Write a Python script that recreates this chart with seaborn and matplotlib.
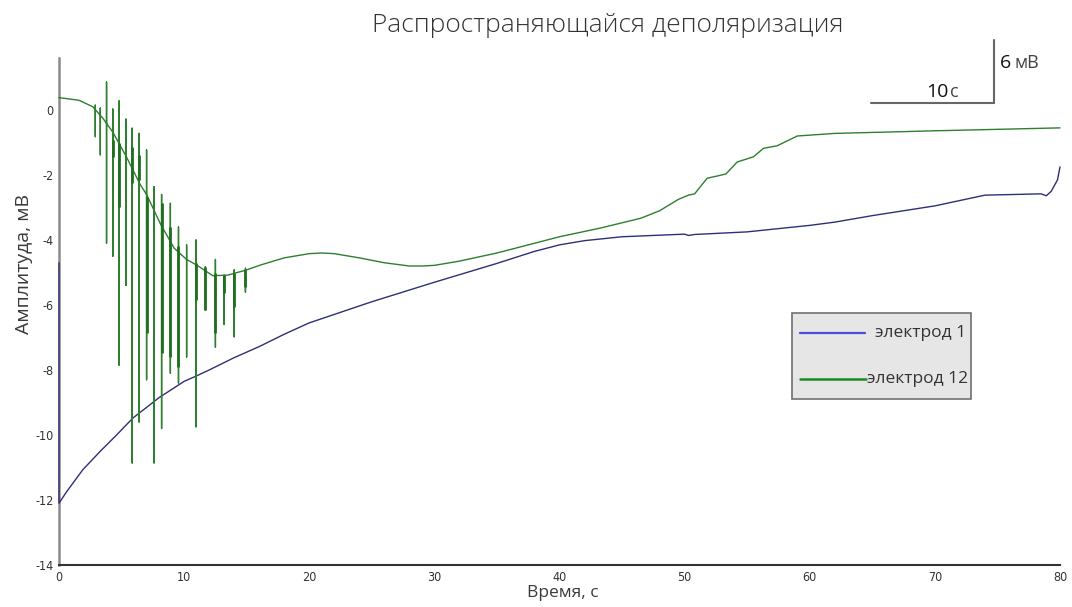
import numpy as np
import pandas as pd
import matplotlib
matplotlib.use("Agg")
import matplotlib.pyplot as plt
from matplotlib.patches import Rectangle
from matplotlib.lines import Line2D
import seaborn as sns

# Electrode 1 (time, s / amplitude, mV)
e1_time = [0, 0, 0.6, 1.9, 3.3, 4.6, 5.9, 8, 10, 11, 12, 14, 16, 18, 20, 25,
           30, 35, 38, 40, 42, 45, 50, 50.3, 50.8, 55, 60, 62, 65, 70, 74,
           78.5, 78.9, 79.3, 79.8, 80]
e1_amp = [-4.7, -12.1, -11.75, -11.07, -10.5, -10.0, -9.48, -8.85, -8.35,
          -8.18, -8.0, -7.62, -7.28, -6.9, -6.55, -5.9, -5.3, -4.72, -4.35,
          -4.15, -4.02, -3.9, -3.82, -3.86, -3.83, -3.75, -3.55, -3.45, -3.25,
          -2.95, -2.62, -2.58, -2.64, -2.5, -2.15, -1.75]

# Electrode 12 slow component
e12_time = [0, 1.6, 2.7, 3.5, 4.3, 5.4, 6.5, 7.0, 8.1, 9.2, 10.2, 11.0, 12.3,
            13.5, 15.0, 16.1, 18, 20, 21, 22, 24, 26, 28, 29, 30, 32, 35, 38,
            40, 43.3, 46.5, 48, 49.5, 50.3, 50.8, 51.8, 53.3, 54.2, 55.5, 56.3,
            57.4, 59, 62, 70, 80]
e12_amp = [0.38, 0.3, 0.1, -0.25, -0.68, -1.45, -2.3, -2.6, -3.5, -4.25, -4.6,
           -4.77, -5.1, -5.08, -4.92, -4.77, -4.55, -4.42, -4.4, -4.42, -4.55,
           -4.7, -4.8, -4.8, -4.78, -4.65, -4.4, -4.1, -3.9, -3.63, -3.33, -3.1,
           -2.75, -2.62, -2.58, -2.1, -1.97, -1.6, -1.44, -1.18, -1.1, -0.8,
           -0.72, -0.64, -0.55]

# Electrode 12 discharges: time, upper and lower excursion
spike_t = [2.9, 3.3, 3.8, 4.3, 4.8, 5.35, 5.85, 6.4, 7.0, 7.6, 8.2, 8.9, 9.55,
           10.2, 10.95, 11.7, 12.5, 13.2, 14.0, 14.9]
spike_hi = [0.15, 0.06, 0.86, 0.03, 0.28, -0.28, -0.56, -0.72, -1.23, -2.36,
            -2.6, -2.87, -3.6, -4.15, -4.0, -4.82, -4.6, -5.1, -4.92, -4.87]
spike_lo = [-0.82, -1.38, -4.1, -4.5, -7.85, -5.4, -10.86, -9.6, -8.3, -10.86,
            -9.8, -8.1, -8.4, -7.6, -9.75, -6.15, -7.3, -6.6, -6.98, -5.6]

# Dense oscillation bursts riding on the discharges
burst_t = [4.3, 4.8, 5.85, 6.4, 7.0, 8.2, 8.9, 9.55, 10.95, 11.7, 12.5, 13.2,
           14.0, 14.9]
burst_hi = [-0.92, -1.03, -1.13, -1.38, -2.67, -2.87, -3.59, -4.2, -4.72,
            -4.82, -5.03, -5.08, -5.03, -4.92]
burst_lo = [-1.44, -2.97, -2.26, -2.15, -6.87, -7.49, -7.59, -7.9, -5.85,
            -6.15, -6.87, -5.64, -6.05, -5.44]

x_ticks = [0, 10, 20, 30, 40, 50, 60, 70, 80]
y_ticks = [-14, -12, -10, -8, -6, -4, -2, 0]

labels = ["электрод 1", "электрод 12"]
title = "Распространяющайся деполяризация"

# Merge discharges into the electrode 12 trace
pts = [(t, v, 0) for t, v in zip(e12_time, e12_amp)]
for t, hi, lo in zip(spike_t, spike_hi, spike_lo):
    base = float(np.interp(t, e12_time, e12_amp))
    for k, v in enumerate([base, hi, lo, base]):
        pts.append((t, v, k + 1))
pts.sort(key=lambda p: (p[0], p[2]))
g_time = [p[0] for p in pts]
g_amp = [p[1] for p in pts]

df = pd.concat([
    pd.DataFrame({"t": e1_time, "v": e1_amp, "electrode": labels[0]}),
    pd.DataFrame({"t": g_time, "v": g_amp, "electrode": labels[1]}),
], ignore_index=True)

sns.set_style("white")
plt.rcParams["font.family"] = ["Open Sans", "DejaVu Sans"]

fig = plt.figure(figsize=(10.72, 6.07), dpi=100)
ax = fig.add_axes([59 / 1072, 42 / 607, 1001 / 1072, 507 / 607])

trace_colors = {labels[0]: "#2f2f78", labels[1]: "#2e7f2e"}
sns.lineplot(data=df, x="t", y="v", hue="electrode", palette=trace_colors,
             sort=False, estimator=None, units="electrode", legend=False,
             linewidth=1.0, ax=ax)
for ln in ax.lines:
    ln.set_zorder(3)
    ln.set_clip_on(False)
ax.vlines(burst_t, burst_lo, burst_hi, colors="#1f6f1f", linewidth=2.0,
          zorder=3)

ax.set_xlim(0, 80)
ax.set_ylim(-14, 1.6)
ax.set_xticks(x_ticks)
ax.set_yticks(y_ticks)
ax.set_xticklabels([str(v) for v in x_ticks])
ax.set_yticklabels([str(v) for v in y_ticks])
ax.tick_params(axis="both", direction="in", length=9, width=1.2,
               colors="#888888", labelcolor="#333333", labelsize=9, pad=4)
for lab in ax.get_xticklabels() + ax.get_yticklabels():
    lab.set_family("DejaVu Sans")
    lab.set_stretch("condensed")

for side in ["top", "right"]:
    ax.spines[side].set_visible(False)
ax.spines["left"].set_color("#8a8a8a")
ax.spines["left"].set_linewidth(1.8)
ax.spines["bottom"].set_color("#333333")
ax.spines["bottom"].set_linewidth(1.5)

ax.set_xlabel("Время, с", fontsize=12.5, color="#3a3a3a")
ax.set_ylabel("Амплитуда, мВ", fontsize=14, color="#3a3a3a")
ax.xaxis.set_label_coords(0.503, -0.055)
ax.xaxis.label.set_va("center")
ax.yaxis.set_label_coords(-0.026, 0.594)

fig.text(608 / 1072, 1 - 25 / 607, title, ha="center", va="center",
         fontsize=19, color="#333333", fontweight="light")

# Scale bar: 10 s horizontal, 6 mV vertical
ax.plot([64.9, 74.75], [0.2, 0.2], color="#666666", lw=1.5, clip_on=False)
ax.plot([74.75, 74.75], [0.2, 2.15], color="#666666", lw=1.5, clip_on=False)
ax.text(71.1, 0.55, "10", ha="right", va="center", fontsize=14, color="#111111")
ax.text(71.2, 0.55, "с", ha="left", va="center", fontsize=13, color="#444444")
ax.text(75.2, 1.45, "6", ha="left", va="center", fontsize=14, color="#111111")
ax.text(76.4, 1.45, "мВ", ha="left", va="center", fontsize=13, color="#444444")

# Legend box
tr = ax.transAxes
ax.add_patch(Rectangle((0.7323, 0.3274), 0.1788, 0.1696, transform=tr,
                       facecolor="#e6e6e6", edgecolor="#707070", lw=1.2,
                       zorder=5))
ax.add_line(Line2D([0.7403, 0.8052], [0.4576, 0.4576], transform=tr,
                   color="#4b4bdc", lw=1.6, zorder=6))
ax.add_line(Line2D([0.7403, 0.8062], [0.3669, 0.3669], transform=tr,
                   color="#1f8a1f", lw=1.8, zorder=6))
ax.text(0.8152, 0.4576, labels[0], transform=tr, ha="left", va="center",
        fontsize=12.5, color="#333333", zorder=7)
ax.text(0.8072, 0.3669, labels[1], transform=tr, ha="left", va="center",
        fontsize=12.5, color="#333333", zorder=7)

fig.savefig("out.png", dpi=100, facecolor="white")
